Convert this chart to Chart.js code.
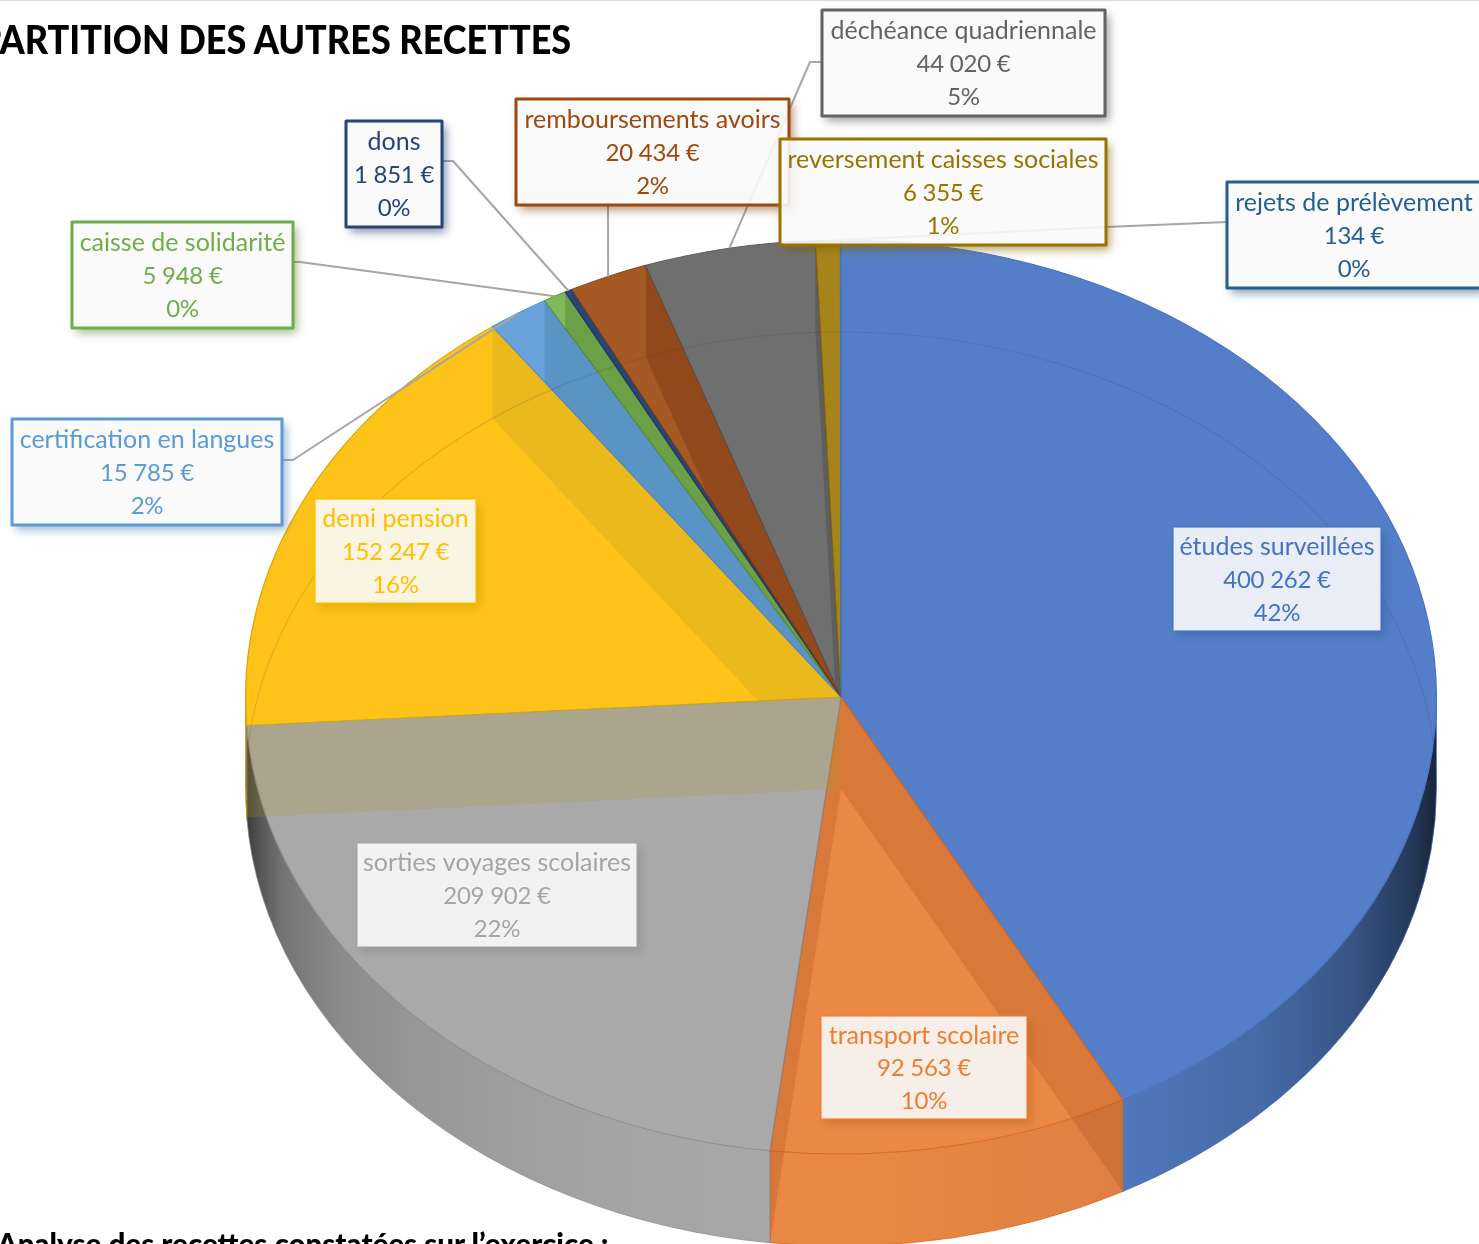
<!DOCTYPE html>
<html lang="fr">
<head>
<meta charset="utf-8">
<title>Répartition des autres recettes</title>
<script src="https://cdn.jsdelivr.net/npm/chart.js@4"></script>
<style>
  html,body{margin:0;padding:0;background:#fff;overflow:hidden;width:1479px;height:1244px}
  #topline{position:absolute;left:0;top:0;width:1479px;height:1px;background:#dcdcdc}
  #title{position:absolute;right:908px;top:15px;font:900 40px Lato,sans-serif;color:#000;white-space:nowrap;z-index:2;transform:scaleX(.9);transform-origin:right center}
  #foot{position:absolute;left:-3px;top:1225px;font:900 30px Lato,sans-serif;color:#000;white-space:nowrap;z-index:2;transform:scaleX(.985);transform-origin:left center}
  canvas{position:absolute;left:0;top:0}
</style>
</head>
<body>
<div id="topline"></div>
<canvas id="c" width="1479" height="1244"></canvas>
<div id="title">RÉPARTITION DES AUTRES RECETTES</div>
<div id="foot">Analyse des recettes constatées sur l’exercice :</div>
<script>
const categories = ["études surveillées","transport scolaire","sorties voyages scolaires","demi pension","certification en langues","caisse de solidarité","dons","remboursements avoirs","déchéance quadriennale","reversement caisses sociales","rejets de prélèvement"];
const values = [400262,92563,209902,152247,15785,5948,1851,20434,44020,6355,134];
const percentLabels = ["42%","10%","22%","16%","2%","0%","0%","2%","5%","1%","0%"];

const edgeColors = ["#4472C4","#ED7D31","#A5A5A5","#FFC000","#5B9BD5","#70AD47","#264478","#9E480E","#636363","#997300","#255E91"];
const faceColors = ["#547FC8","#EB8845","#A9A9A9","#FDC318","#6AA3DC","#7FB95A","#2F4C80","#A55A25","#6F6F6F","#A5851B","#2F6A9E"];
const sliceBorders = ["#4472C4","#DC6A22","#8E8E8E","#D9A50C","#4A8CCB","#5F9A3C","#1F3A68","#8A3F0C","#5C5C5C","#8A6A10","#4472C4"];
// which slice tints the inner wall at the end of each slice, and the tint of each slice's walls
const wallOwner = [1,1,3,3,4,5,6,7,8,9,10];
const wallTints = ["#2A4880","#953E10","#666666","#B0962E","#265F78","#244800","#152A50","#531100","#262626","#6A5410","#1A4060"];
const boxRects = [[1173,527,208,104],[821,1016,206,103],[357,843,280,104],[315,499,161,104],[12,419,270,106],[72,222,221,106],[346,121,96,106],[516,99,273,106],[822,10,283,106],[780,139,326,106],[1227,182,254,106]];
const leaderElbows = [null,null,null,null,[[282,460],[293,460]],[[293,262],[300,262]],[[442,161],[453,161]],[[608,205],[608,205]],[[822,62],[810,62]],null,[[1227,222],[1106,227]]];
const wallShade = [[0,.34],[.012,.5],[.03,.68],[.08,.82],[.15,.9],[.3,.97],[.5,1],[.72,.95],[.85,.84],[.93,.66],[.98,.44],[1,.28]];

const FACE_CY = 697, RY = 457, DEPTH = 92;
const rgb = h => [1,3,5].map(i => parseInt(h.substr(i,2),16));
const mul = (h,f,a=1) => { const c = rgb(h).map(v => Math.round(v*f)); return `rgba(${c[0]},${c[1]},${c[2]},${a})`; };
const fmt = v => String(v).replace(/\B(?=(\d{3})+$)/g," ") + " €";

const pie3d = {
  id:"pie3d",
  beforeDatasetsDraw(chart){
    const ctx = chart.ctx, arcs = chart.getDatasetMeta(0).data;
    const {x:cx, outerRadius:R} = arcs[0];
    // outer walls
    arcs.forEach((arc,i) => {
      const a0 = Math.max(arc.startAngle,0), a1 = Math.min(arc.endAngle,Math.PI);
      if (a1 <= a0) return;
      const g = ctx.createLinearGradient(cx-R,0,cx+R,0);
      wallShade.forEach(([t,f]) => g.addColorStop(t,mul(faceColors[i],f)));
      ctx.beginPath();
      ctx.ellipse(cx,FACE_CY,R,RY,0,a0,a1);
      ctx.ellipse(cx,FACE_CY+DEPTH,R,RY,0,a1,a0,true);
      ctx.closePath();
      ctx.fillStyle = g; ctx.fill();
      ctx.strokeStyle = mul(sliceBorders[i],.95,.7); ctx.lineWidth = 1; ctx.stroke();
    });
    // top faces: the library's arcs, squashed into perspective
    const k = RY/R, cy = arcs[0].y;
    ctx.save();
    ctx.translate(cx,FACE_CY); ctx.scale(1,k); ctx.translate(-cx,-cy);
  },
  afterDatasetsDraw(chart){
    const ctx = chart.ctx, arcs = chart.getDatasetMeta(0).data;
    ctx.restore();
    const {x:cx, outerRadius:R} = arcs[0];
    const pt = (a,dy=0) => [cx+R*Math.cos(a), FACE_CY+dy+RY*Math.sin(a)];
    // inner walls seen through the transparent top
    arcs.forEach((arc,i) => {
      const a = arc.endAngle, o = wallOwner[i], own = arcs[o];
      ctx.save();
      if (Math.sin(a) < 0) {
        ctx.beginPath(); ctx.moveTo(cx,FACE_CY);
        ctx.ellipse(cx,FACE_CY,R,RY,0,own.startAngle,own.endAngle);
        ctx.closePath(); ctx.clip();
      }
      const p = pt(a), q = pt(a,DEPTH);
      ctx.beginPath();
      ctx.moveTo(cx,FACE_CY); ctx.lineTo(p[0],p[1]); ctx.lineTo(q[0],q[1]); ctx.lineTo(cx,FACE_CY+DEPTH); ctx.closePath();
      const t = rgb(wallTints[o]);
      ctx.fillStyle = `rgba(${t[0]},${t[1]},${t[2]},.22)`; ctx.fill();
      ctx.restore();
    });
    // far rim of the base, faintly visible through the top
    ctx.beginPath();
    ctx.ellipse(cx,FACE_CY+DEPTH,R,RY,0,Math.PI,2*Math.PI);
    ctx.strokeStyle = "rgba(50,50,60,.14)"; ctx.lineWidth = 1.2; ctx.stroke();
    // leaders
    ctx.strokeStyle = "#A6A6A6"; ctx.lineWidth = 2; ctx.lineJoin = "round";
    leaderElbows.forEach((pts,i) => {
      if (!pts) return;
      const m = pt((arcs[i].startAngle+arcs[i].endAngle)/2);
      ctx.beginPath(); ctx.moveTo(pts[0][0],pts[0][1]); ctx.lineTo(pts[1][0],pts[1][1]); ctx.lineTo(m[0],m[1]); ctx.stroke();
    });
    // labels
    categories.forEach((name,i) => {
      const [x,y,w,h] = boxRects[i];
      ctx.save();
      ctx.shadowColor = mul(edgeColors[i],.8,.55); ctx.shadowBlur = 9; ctx.shadowOffsetX = 4; ctx.shadowOffsetY = 5;
      ctx.fillStyle = "#fff";
      ctx.save(); ctx.beginPath(); ctx.rect(x,y,w,h); ctx.rect(0,0,1479,1244); ctx.clip("evenodd"); ctx.fillRect(x,y,w,h); ctx.restore();
      ctx.restore();
      ctx.fillStyle = "rgba(250,250,250,.9)"; ctx.fillRect(x,y,w,h);
      ctx.strokeStyle = i < 4 ? mul(edgeColors[i],1,.75) : edgeColors[i];
      ctx.lineWidth = i < 4 ? 1.5 : 3; ctx.strokeRect(x,y,w,h);
      ctx.fillStyle = edgeColors[i];
      ctx.textAlign = "center"; ctx.textBaseline = "middle";
      const tx = x+w/2, ty = y+h/2+1;
      ctx.font = "25px Lato, sans-serif";
      ctx.fillText(name,tx,ty-33);
      ctx.font = "24px Lato, sans-serif"; ctx.letterSpacing = "-0.25px";
      ctx.fillText(fmt(values[i]),tx,ty); ctx.fillText(percentLabels[i],tx,ty+33);
      ctx.letterSpacing = "0px";
    });
  }
};

new Chart(document.getElementById("c"),{
  type:"pie",
  data:{labels:categories,datasets:[{data:values,backgroundColor:faceColors,borderColor:sliceBorders,borderWidth:1.2,clip:false}]},
  options:{
    responsive:false,animation:false,rotation:0,
    layout:{padding:{left:245,right:42,top:0,bottom:52}},
    plugins:{legend:{display:false},tooltip:{enabled:false},title:{display:false}}
  },
  plugins:[pie3d]
});
</script>
</body>
</html>
